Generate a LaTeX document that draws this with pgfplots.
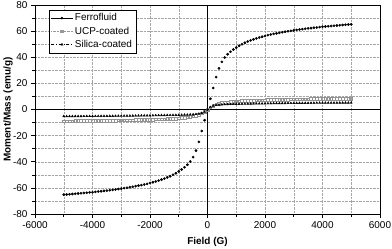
\documentclass[border=0pt]{standalone}
\usepackage{pgfplots}
\pgfplotsset{compat=1.18}
\usepackage{pgfplotstable}
\usepackage{fontspec}
\setmainfont{Liberation Sans}
\pgfplotstableread{
H F U S
-5000 -65.2 -8.9 -5.2
-4900 -65.1 -8.88 -5.19
-4800 -64.9 -8.86 -5.18
-4700 -64.7 -8.84 -5.17
-4600 -64.5 -8.82 -5.16
-4500 -64.3 -8.8 -5.15
-4400 -64.1 -8.78 -5.14
-4300 -63.9 -8.76 -5.13
-4200 -63.7 -8.74 -5.12
-4100 -63.5 -8.72 -5.11
-4000 -63.3 -8.7 -5.1
-3900 -63.1 -8.66 -5.08
-3800 -62.8 -8.62 -5.06
-3700 -62.6 -8.58 -5.04
-3600 -62.3 -8.54 -5.02
-3500 -62.1 -8.5 -5.0
-3400 -61.8 -8.46 -4.98
-3300 -61.5 -8.42 -4.96
-3200 -61.2 -8.38 -4.94
-3100 -60.9 -8.34 -4.92
-3000 -60.6 -8.3 -4.9
-2900 -60.2 -8.24 -4.87
-2800 -59.9 -8.18 -4.84
-2700 -59.5 -8.12 -4.81
-2600 -59.1 -8.06 -4.78
-2500 -58.7 -8.0 -4.75
-2400 -58.3 -7.94 -4.72
-2300 -57.9 -7.88 -4.69
-2200 -57.4 -7.82 -4.66
-2100 -56.9 -7.76 -4.63
-2000 -56.3 -7.7 -4.6
-1900 -55.7 -7.65 -4.56
-1800 -55.1 -7.6 -4.52
-1700 -54.4 -7.5 -4.48
-1600 -53.7 -7.4 -4.44
-1500 -52.9 -7.3 -4.4
-1400 -52.0 -7.2 -4.36
-1300 -51.1 -7.1 -4.32
-1200 -50.0 -7.0 -4.28
-1100 -48.8 -6.85 -4.24
-1000 -47.4 -6.7 -4.2
-900 -45.9 -6.4 -4.14
-800 -44.2 -6.1 -4.07
-700 -42.3 -5.8 -4.0
-600 -39.8 -5.5 -3.9
-500 -36.5 -5.1 -3.8
-400 -31.5 -4.6 -3.6
-300 -24.8 -3.9 -3.3
-200 -16.5 -3.0 -2.8
-100 -8.2 -1.8 -1.8
0 0 0 0
100 8.2 1.8 1.8
200 16.5 3.0 2.8
300 24.8 3.9 3.3
400 31.5 4.5 3.6
500 36.5 5.0 3.8
600 39.8 5.3 3.9
700 42.3 5.6 4.0
800 44.2 5.8 4.07
900 45.9 6.0 4.14
1000 47.4 6.2 4.2
1100 48.8 6.35 4.24
1200 50.0 6.5 4.28
1300 51.1 6.6 4.32
1400 52.0 6.7 4.36
1500 52.9 6.8 4.4
1600 53.7 6.9 4.44
1700 54.4 7.0 4.48
1800 55.1 7.1 4.52
1900 55.7 7.15 4.56
2000 56.3 7.2 4.6
2100 56.9 7.26 4.63
2200 57.4 7.32 4.66
2300 57.9 7.38 4.69
2400 58.3 7.44 4.72
2500 58.7 7.5 4.75
2600 59.1 7.56 4.78
2700 59.5 7.62 4.81
2800 59.9 7.68 4.84
2900 60.2 7.74 4.87
3000 60.6 7.8 4.9
3100 60.9 7.84 4.92
3200 61.2 7.88 4.94
3300 61.5 7.92 4.96
3400 61.8 7.96 4.98
3500 62.1 8.0 5.0
3600 62.3 8.04 5.02
3700 62.6 8.08 5.04
3800 62.8 8.12 5.06
3900 63.1 8.16 5.08
4000 63.3 8.2 5.1
4100 63.5 8.22 5.11
4200 63.7 8.24 5.12
4300 63.9 8.26 5.13
4400 64.1 8.28 5.14
4500 64.3 8.3 5.15
4600 64.5 8.32 5.16
4700 64.7 8.34 5.17
4800 64.9 8.36 5.18
4900 65.1 8.38 5.19
5000 65.2 8.4 5.2
}\data
\begin{document}
\begin{tikzpicture}
\begin{axis}[
  at={(0,0)}, anchor=south west,
  scale only axis, width=345bp, height=209bp,
  xmin=-6000, xmax=6000, ymin=-80, ymax=80,
  xtick={-6000,-4000,...,6000}, ytick={-80,-60,...,80},
  minor x tick num=1, minor y tick num=1,
  grid=both,
  major grid style={densely dotted, gray!70, line width=0.4pt},
  minor grid style={densely dotted, gray!70, line width=0.4pt},
  tick align=outside, xtick pos=bottom, ytick pos=left,
  major tick length=4bp, minor tick length=2.5bp,
  tick style={black, line width=0.6pt},
  axis line style={line width=0.8pt},
  /pgf/number format/assume math mode=true,
  /pgf/number format/1000 sep={},
  ticklabel style={font=\fontsize{10}{12}\selectfont},
  label style={font=\fontsize{10}{12}\selectfont\bfseries},
  xlabel={Field (G)}, ylabel={Moment/Mass (emu/g)},
  xlabel style={at={(axis description cs:0.5,-0.1325)}, anchor=center},
  ylabel style={at={(axis description cs:-0.078,0.5)}, anchor=center},
  legend cell align=left,
  legend style={at={(0.04,0.978)}, anchor=north west, draw=black,
    font=\fontsize{10}{11}\selectfont, inner sep=2pt, row sep=0.5pt},
  legend image code/.code={\draw[mark repeat=2,mark phase=2] plot coordinates {(0cm,0cm)(0.38cm,0cm)(0.76cm,0cm)};},
]
\addplot[black, line width=0.8pt, forget plot] coordinates {(0,-80) (0,80)};
\addplot[black, line width=0.8pt, forget plot] coordinates {(-6000,0) (6000,0)};
\addplot[only marks, mark=*, mark size=1.15pt, black, forget plot] table[x=H, y=F] {\data};
\addplot[only marks, mark=square, mark size=1.3pt, gray!85, mark options={line width=0.45pt}, forget plot] table[x=H, y=U] {\data};
\addplot[only marks, mark=triangle*, mark size=1.2pt, black, forget plot] table[x=H, y=S] {\data};
\addlegendimage{black, solid, mark=*, mark size=1.1pt}
\addlegendentry{Ferrofluid}
\addlegendimage{gray!80, densely dotted, mark=square, mark size=1.3pt, mark options={solid}}
\addlegendentry{UCP-coated}
\addlegendimage{black, dashdotted, mark=triangle*, mark size=1.2pt, mark options={solid}}
\addlegendentry{Silica-coated}
\end{axis}
\pgfresetboundingbox
\useasboundingbox (-35bp,-35bp) rectangle (357bp,214bp);
\end{tikzpicture}
\end{document}
